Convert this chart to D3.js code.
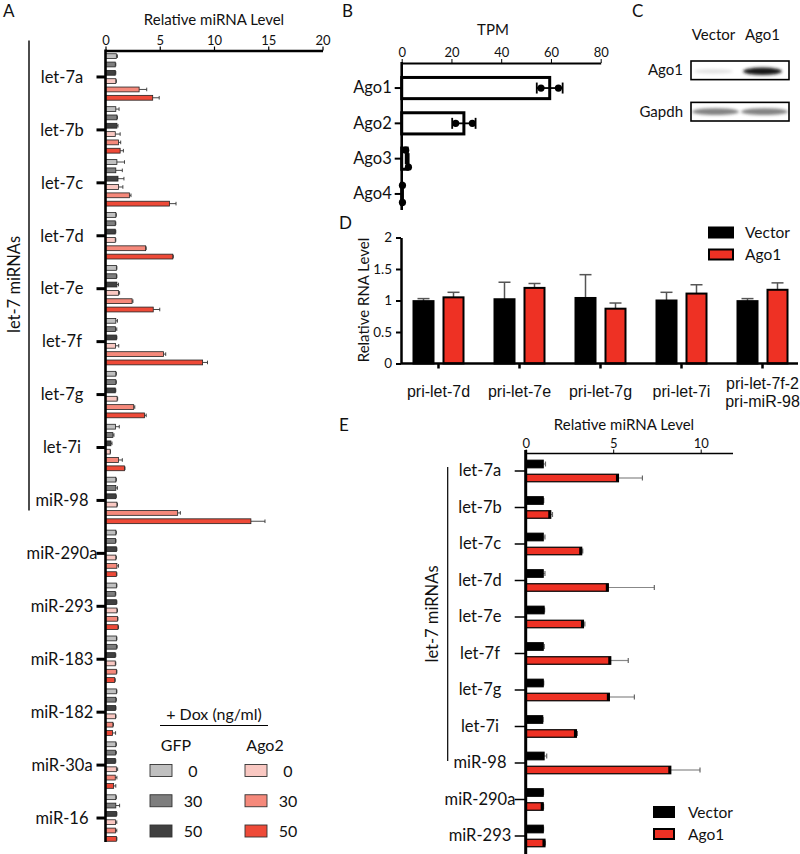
<!DOCTYPE html>
<html><head><meta charset="utf-8">
<script src="https://cdn.jsdelivr.net/npm/d3@7"></script>
<style>
body{margin:0;background:#fff}
svg{display:block;font-family:Lato,"Open Sans",sans-serif;fill:#111}
</style></head><body>
<svg id="c" width="800" height="854"></svg>
<script>
// ---------- Panel A data ----------
const aCategories = ["let-7a","let-7b","let-7c","let-7d","let-7e","let-7f","let-7g","let-7i","miR-98","miR-290a","miR-293","miR-183","miR-182","miR-30a","miR-16"];
const aSeriesNames = ["GFP 0","GFP 30","GFP 50","Ago2 0","Ago2 30","Ago2 50"];
const aSeriesColors = ["#c0c0c0","#7e7e7e","#404040","#f9c8c2","#f5897b","#ee4a38"];
const aGFP0    = [1.0,0.95,1.05,0.95,1.0,0.95,0.95,0.92,0.95,0.95,1.0,1.0,1.0,0.95,0.95];
const aGFP30   = [0.9,1.05,0.95,0.9,1.0,0.92,0.95,0.68,0.95,0.92,0.9,1.0,0.95,0.92,0.95];
const aGFP50   = [0.9,1.05,1.15,0.9,1.05,1.0,0.9,0.5,0.95,1.0,1.0,0.9,0.92,0.9,1.0];
const aAgo2_0  = [0.95,0.9,1.2,0.9,1.2,0.92,1.07,0.43,1.05,0.95,1.05,0.9,0.92,1.0,0.92];
const aAgo2_30 = [3.1,1.2,2.2,3.7,2.45,5.35,2.6,1.2,6.65,1.05,1.1,1.0,0.68,0.9,0.92];
const aAgo2_50 = [4.35,1.35,5.9,6.2,4.4,8.95,3.6,1.75,13.4,1.0,1.15,0.85,0.65,0.75,1.0];
const aGFP0Err    = [0.1,0.3,0.7,0.05,0.05,0.15,0.05,0.35,0.05,0.05,0.05,0.05,0.05,0.05,0.05];
const aGFP30Err   = [0.05,0.05,0.6,0.05,0.05,0.12,0.05,0.1,0.15,0.05,0.05,0.08,0.05,0.08,0.35];
const aGFP50Err   = [0.05,0.1,0.55,0.05,0.15,0.05,0.05,0.1,0.05,0.05,0.05,0.05,0.05,0.05,0.05];
const aAgo2_0Err  = [0.05,0.45,0.4,0.05,0.1,0.3,0.05,0.03,0.05,0.05,0.05,0.05,0.05,0.12,0.12];
const aAgo2_30Err = [0.7,0.2,0.15,0.05,0.08,0.2,0.1,0.35,0.25,0.15,0.05,0.05,0.05,0.15,0.12];
const aAgo2_50Err = [0.6,0.3,0.6,0.05,0.6,0.45,0.15,0.05,1.3,0.05,0.05,0.05,0.28,0.2,0.05];
const aTicks = [0,5,10,15,20];
const aDoses = ["0","30","50"];
const aLet7Group = ["let-7a","miR-98"];

// ---------- Panel B data ----------
const bCategories = ["Ago1","Ago2","Ago3","Ago4"];
const bMeans  = [59.5,25,2.2,0.3];
const bErr    = [5.2,4.7,0.6,0];
const bPoints = [[56,63],[21.7,28.4],[1.6,2.7],[0.3,0.3]];
const bTicks  = [0,20,40,60,80];

// ---------- Panel C data ----------
const cLanes = ["Vector","Ago1"];
const cRows  = ["Ago1","Gapdh"];
const cIntensity = [[0.1,0.95],[0.55,0.55]];

// ---------- Panel D data ----------
const dGroups = ["pri-let-7d","pri-let-7e","pri-let-7g","pri-let-7i","pri-let-7f-2|pri-miR-98"];
const dSeries = ["Vector","Ago1"];
const dVector    = [0.99,1.02,1.04,1.0,0.99];
const dVectorErr = [0.04,0.27,0.37,0.13,0.04];
const dAgo1      = [1.05,1.2,0.87,1.11,1.17];
const dAgo1Err   = [0.08,0.07,0.09,0.14,0.11];
const dTicks = [0,0.5,1,1.5,2];

// ---------- Panel E data ----------
const eCategories = ["let-7a","let-7b","let-7c","let-7d","let-7e","let-7f","let-7g","let-7i","miR-98","miR-290a","miR-293"];
const eSeries = ["Vector","Ago1"];
const eVector    = [1.0,1.0,1.0,1.0,1.05,1.0,1.0,0.97,1.05,1.0,1.0];
const eVectorErr = [0.13,0.03,0.1,0.1,0.03,0.06,0.03,0.02,0.15,0.02,0.02];
const eAgo1      = [5.3,1.43,3.2,4.72,3.3,4.86,4.78,2.9,8.29,1.0,1.1];
const eAgo1Err   = [1.37,0.1,0.06,2.63,0.08,1.0,1.43,0.05,1.67,0.02,0.02];
const eTicks = [0,5,10];
const eLet7Group = ["let-7a","miR-98"];

const RED = "#ee3124";
const svg = d3.select("#c");
svg.append("rect").attr("width",800).attr("height",854).attr("fill","#fff");

function letter(t,x,y){ svg.append("text").attr("x",x).attr("y",y).attr("font-size",17).text(t); }
function styleAxis(g, w){
  g.select(".domain").attr("stroke","#000").attr("stroke-width",w);
  g.selectAll(".tick line").attr("stroke","#000");
  g.selectAll(".tick text").attr("fill","#111").attr("font-family","Lato,sans-serif");
}

// ================= Panel A =================
{
  letter("A",3,17);
  const x = d3.scaleLinear().domain([0,20]).range([105.5,322.5]);
  const y = d3.scaleBand().domain(aCategories).range([50.5,844.5]);
  const sub = d3.scaleBand().domain(aSeriesNames).range([0,y.bandwidth()]).paddingInner(0.42).paddingOuter(0.39);
  const vals = [aGFP0,aGFP30,aGFP50,aAgo2_0,aAgo2_30,aAgo2_50];
  const errs = [aGFP0Err,aGFP30Err,aGFP50Err,aAgo2_0Err,aAgo2_30Err,aAgo2_50Err];
  const rows = [];
  aCategories.forEach((c,i)=>aSeriesNames.forEach((s,j)=>rows.push({c,s,j,v:vals[j][i],e:errs[j][i]})));
  const g = svg.append("g");
  const eb = g.selectAll(".eb").data(rows).join("g");
  const cy = d => y(d.c)+sub(d.s)+sub.bandwidth()/2;
  eb.append("line").attr("x1",d=>x(d.v)).attr("x2",d=>x(d.v+d.e)).attr("y1",cy).attr("y2",cy).attr("stroke","#333").attr("stroke-width",0.9);
  eb.append("line").attr("x1",d=>x(d.v+d.e)).attr("x2",d=>x(d.v+d.e)).attr("y1",d=>cy(d)-1.8).attr("y2",d=>cy(d)+1.8).attr("stroke","#333").attr("stroke-width",0.9);
  g.selectAll(".bar").data(rows).join("rect")
    .attr("x",x(0)).attr("y",d=>y(d.c)+sub(d.s)).attr("width",d=>x(d.v)-x(0)).attr("height",sub.bandwidth())
    .attr("fill",d=>aSeriesColors[d.j]).attr("stroke","#222").attr("stroke-width",0.8);
  const gx = svg.append("g").attr("transform","translate(0,50.5)")
    .call(d3.axisTop(x).tickValues(aTicks).tickSize(4).tickSizeOuter(0).tickPadding(2));
  styleAxis(gx,2.5); gx.selectAll(".tick text").attr("font-size",13);
  gx.selectAll(".tick line").attr("stroke-width",1.2);
  svg.append("text").attr("x",214).attr("y",25).attr("text-anchor","middle").attr("font-size",15).text("Relative miRNA Level");
  const gy = svg.append("g").attr("transform","translate(105.5,0)")
    .call(d3.axisLeft(y).tickSize(9).tickSizeOuter(0).tickPadding(3));
  gy.select(".domain").attr("d","M0,49.5V842");
  styleAxis(gy,2.6);
  gy.selectAll(".tick line").attr("stroke-width",3);
  gy.selectAll(".tick text").attr("text-anchor","middle").attr("x",62-105.5).attr("font-size",16.5).attr("dy","0.35em");
  const by0 = y(aLet7Group[0])-10, by1 = y(aLet7Group[1])+y.bandwidth()/2+10;
  svg.append("line").attr("x1",29).attr("x2",29).attr("y1",by0).attr("y2",by1).attr("stroke","#000").attr("stroke-width",1.4);
  svg.append("text").attr("transform",`translate(20,${(by0+by1)/2+9}) rotate(-90)`).attr("text-anchor","middle").attr("font-size",16.5).text("let-7 miRNAs");
  const L = svg.append("g");
  L.append("text").attr("x",214).attr("y",720).attr("text-anchor","middle").attr("font-size",16).text("+ Dox (ng/ml)");
  L.append("line").attr("x1",160).attr("x2",268).attr("y1",725.5).attr("y2",725.5).attr("stroke","#000").attr("stroke-width",1);
  const groupsL = [{name:"GFP",cx:176,sx:150,lx:193,off:0},{name:"Ago2",cx:265,sx:245,lx:288,off:3}];
  const rowY = d3.scalePoint().domain(aDoses).range([770.5,831]);
  groupsL.forEach(gl=>{
    L.append("text").attr("x",gl.cx).attr("y",751).attr("text-anchor","middle").attr("font-size",16).text(gl.name);
    aDoses.forEach((dose,k)=>{
      L.append("rect").attr("x",gl.sx).attr("y",rowY(dose)-6).attr("width",22).attr("height",12)
        .attr("fill",aSeriesColors[gl.off+k]).attr("stroke","#333").attr("stroke-width",0.9);
      L.append("text").attr("x",gl.lx).attr("y",rowY(dose)+6).attr("text-anchor","middle").attr("font-size",16).text(dose);
    });
  });
}

// ================= Panel B =================
{
  letter("B",342,17);
  const x = d3.scaleLinear().domain([0,80]).range([401.7,600.7]);
  const y = d3.scaleBand().domain(bCategories).range([70.4,211.6]).paddingInner(0.4).paddingOuter(0.2);
  const g = svg.append("g");
  const rows = bCategories.map((c,i)=>({c,m:bMeans[i],e:bErr[i],p:bPoints[i]}));
  g.selectAll(".bb").data(rows).join("rect")
    .attr("x",x(0)).attr("y",d=>y(d.c)).attr("width",d=>Math.max(0,x(d.m)-x(0))).attr("height",y.bandwidth())
    .attr("fill","#fff").attr("stroke","#000").attr("stroke-width",3);
  rows.forEach(d=>{
    const cy = y(d.c)+y.bandwidth()/2;
    if(d.e>0){
      g.append("line").attr("x1",x(d.m-d.e)).attr("x2",x(d.m+d.e)).attr("y1",cy).attr("y2",cy).attr("stroke","#000").attr("stroke-width",1.8);
      [d.m-d.e,d.m+d.e].forEach(v=>g.append("line").attr("x1",x(v)).attr("x2",x(v)).attr("y1",cy-5.5).attr("y2",cy+5.5).attr("stroke","#000").attr("stroke-width",1.8));
    }
    const close = Math.abs(x(d.p[0])-x(d.p[1]))<8;
    d.p.forEach((v,k)=>{
      g.append("circle").attr("cx",x(v)).attr("cy",cy+(close?(k?8.5:-8.5):0)).attr("r",3.6).attr("fill","#000");
    });
  });
  const gx = svg.append("g").attr("transform","translate(0,63)")
    .call(d3.axisTop(x).tickValues(bTicks).tickSize(4).tickSizeOuter(0).tickPadding(2));
  styleAxis(gx,2); gx.selectAll(".tick text").attr("font-size",13);
  svg.append("text").attr("x",493).attr("y",35).attr("text-anchor","middle").attr("font-size",15).text("TPM");
  const gy = svg.append("g").attr("transform","translate(401.7,0)")
    .call(d3.axisLeft(y).tickSize(7).tickSizeOuter(0).tickPadding(3));
  gy.select(".domain").attr("d","M0,62V210");
  styleAxis(gy,2.6); gy.selectAll(".tick line").attr("stroke-width",2);
  gy.selectAll(".tick text").attr("font-size",16.5);
}

// ================= Panel C =================
{
  letter("C",632,17);
  const x = d3.scaleBand().domain(cLanes).range([691,789]);
  const y = d3.scaleBand().domain(cRows).range([61,121]).paddingInner(0.55);
  const defs = svg.append("defs");
  defs.append("filter").attr("id","blur").attr("x","-50%").attr("y","-100%").attr("width","200%").attr("height","300%")
    .append("feGaussianBlur").attr("stdDeviation",1.7);
  cLanes.forEach(l=>svg.append("text").attr("x",x(l)+x.bandwidth()/2+(l==="Vector"?-2:-2)).attr("y",40).attr("text-anchor","middle").attr("font-size",15).text(l));
  cRows.forEach((r,i)=>{
    const top = y(r), h = y.bandwidth();
    svg.append("text").attr("x",683).attr("y",top+h/2+5).attr("text-anchor","end").attr("font-size",15).text(r);
    const cid = "clip"+i;
    defs.append("clipPath").attr("id",cid).append("rect").attr("x",691).attr("y",top).attr("width",98).attr("height",h);
    const gb = svg.append("g").attr("clip-path",`url(#${cid})`);
    cLanes.forEach((l,j)=>{
      const inten = cIntensity[i][j];
      gb.append("ellipse").attr("cx",x(l)+x.bandwidth()/2-(i===0?2:0)).attr("cy",top+h/2+(i===0?1:0))
        .attr("rx",x.bandwidth()/2-(i===0?5:1)).attr("ry",i===0?2.2+inten*1.6:3.4)
        .attr("fill",d3.interpolateGreys(0.35+inten*0.6)).attr("opacity",Math.min(1,0.25+inten))
        .attr("filter","url(#blur)");
    });
    svg.append("rect").attr("x",691).attr("y",top).attr("width",98).attr("height",h)
      .attr("fill","none").attr("stroke","#000").attr("stroke-width",1.6);
  });
}

// ================= Panel D =================
{
  letter("D",339,229);
  const x = d3.scaleBand().domain(dGroups).range([398,803]);
  const xi = d3.scaleBand().domain(dSeries).range([-30,30]).paddingInner(1/3).paddingOuter(1/6);
  const y = d3.scaleLinear().domain([0,2]).range([363.5,237.5]);
  const vals = [dVector,dAgo1], errs=[dVectorErr,dAgo1Err], fills=["#000",RED];
  const rows=[];
  dGroups.forEach((gname,i)=>dSeries.forEach((s,j)=>rows.push({gname,s,j,v:vals[j][i],e:errs[j][i]})));
  const g = svg.append("g");
  rows.forEach(d=>{
    const cx = x(d.gname)+x.bandwidth()/2+xi(d.s)+xi.bandwidth()/2;
    g.append("line").attr("x1",cx).attr("x2",cx).attr("y1",y(d.v)).attr("y2",y(d.v+d.e)).attr("stroke","#555").attr("stroke-width",1.5);
    g.append("line").attr("x1",cx-6).attr("x2",cx+6).attr("y1",y(d.v+d.e)).attr("y2",y(d.v+d.e)).attr("stroke","#555").attr("stroke-width",1.5);
  });
  g.selectAll(".db").data(rows).join("rect")
    .attr("x",d=>x(d.gname)+x.bandwidth()/2+xi(d.s)).attr("width",xi.bandwidth())
    .attr("y",d=>y(d.v)).attr("height",d=>y(0)-y(d.v))
    .attr("fill",d=>fills[d.j]).attr("stroke","#000").attr("stroke-width",2);
  const gy = svg.append("g").attr("transform","translate(401,0)")
    .call(d3.axisLeft(y).tickValues(dTicks).tickSize(5).tickSizeOuter(0).tickPadding(4).tickFormat(d3.format("")));
  styleAxis(gy,2.5); gy.selectAll(".tick line").attr("stroke-width",2);
  gy.selectAll(".tick text").attr("font-size",13.5);
  const gx = svg.append("g").attr("transform","translate(0,363.5)")
    .call(d3.axisBottom(x).tickSize(5).tickSizeOuter(0).tickFormat(""));
  gx.select(".domain").attr("d","M401,0H798");
  styleAxis(gx,2.5); gx.selectAll(".tick line").attr("stroke-width",2.5);
  gx.selectAll(".tick").each(function(d){
    const parts = d.split("|");
    const t = d3.select(this).append("text").attr("text-anchor","middle").attr("font-size",16).attr("fill","#111");
    parts.forEach((p,k)=>t.append("tspan").attr("x",0).attr("y",parts.length>1?(k?43.5:25):33.5).text(p));
  });
  svg.append("text").attr("transform","translate(369,300) rotate(-90)").attr("text-anchor","middle").attr("font-size",15).text("Relative RNA Level");
  const ly = d3.scalePoint().domain(dSeries).range([232.5,254.5]);
  dSeries.forEach((s,j)=>{
    svg.append("rect").attr("x",709).attr("y",ly(s)-5).attr("width",24).attr("height",10).attr("fill",fills[j]).attr("stroke","#000").attr("stroke-width",2);
    svg.append("text").attr("x",745).attr("y",ly(s)+5.5).attr("font-size",15.5).text(s);
  });
}

// ================= Panel E =================
{
  letter("E",339,431);
  const x = d3.scaleLinear().domain([0,12]).range([525.7,735.7]);
  const y = d3.scaleBand().domain(eCategories).range([452.75,854.25]);
  const yi = d3.scaleBand().domain(eSeries).range([-14,14]).paddingInner(0.464).paddingOuter(0.232);
  const vals=[eVector,eAgo1], errs=[eVectorErr,eAgo1Err], fills=["#000",RED];
  const rows=[];
  eCategories.forEach((c,i)=>eSeries.forEach((s,j)=>rows.push({c,s,j,v:vals[j][i],e:errs[j][i]})));
  const g = svg.append("g");
  const cy = d => y(d.c)+y.bandwidth()/2+yi(d.s)+yi.bandwidth()/2;
  rows.forEach(d=>{
    g.append("line").attr("x1",x(d.v)).attr("x2",x(d.v+d.e)).attr("y1",cy(d)).attr("y2",cy(d)).attr("stroke","#888").attr("stroke-width",1.2);
    g.append("line").attr("x1",x(d.v+d.e)).attr("x2",x(d.v+d.e)).attr("y1",cy(d)-2.5).attr("y2",cy(d)+2.5).attr("stroke","#666").attr("stroke-width",1.2);
  });
  g.selectAll(".eb").data(rows).join("rect")
    .attr("x",x(0)).attr("y",d=>cy(d)-yi.bandwidth()/2).attr("width",d=>x(d.v)-x(0)).attr("height",yi.bandwidth())
    .attr("fill",d=>fills[d.j]).attr("stroke","#000").attr("stroke-width",1.2);
  g.selectAll(".ee").data(rows.filter(d=>d.j===1)).join("line")
    .attr("x1",d=>x(d.v)-1.2).attr("x2",d=>x(d.v)-1.2).attr("y1",d=>cy(d)-yi.bandwidth()/2).attr("y2",d=>cy(d)+yi.bandwidth()/2)
    .attr("stroke","#000").attr("stroke-width",2.6);
  const gx = svg.append("g").attr("transform","translate(0,453.5)")
    .call(d3.axisTop(x).tickValues(eTicks).tickSize(4).tickSizeOuter(0).tickPadding(2));
  gx.select(".domain").attr("d","M525.7,0H733");
  styleAxis(gx,1.5); gx.selectAll(".tick text").attr("font-size",13);
  svg.append("text").attr("x",624).attr("y",430).attr("text-anchor","middle").attr("font-size",15).text("Relative miRNA Level");
  const gy = svg.append("g").attr("transform","translate(525.7,0)")
    .call(d3.axisLeft(y).tickSize(11).tickSizeOuter(0).tickPadding(3));
  gy.select(".domain").attr("d","M0,450V854");
  styleAxis(gy,3); gy.selectAll(".tick line").attr("stroke-width",1.5);
  gy.selectAll(".tick text").attr("text-anchor","middle").attr("x",480-525.7).attr("font-size",16.5);
  const by0 = y(eLet7Group[0])+y.bandwidth()/2-4, by1 = y(eLet7Group[1])+y.bandwidth()/2-2;
  svg.append("line").attr("x1",447.7).attr("x2",447.7).attr("y1",by0).attr("y2",by1).attr("stroke","#000").attr("stroke-width",1.2);
  svg.append("text").attr("transform",`translate(438,${(by0+by1)/2}) rotate(-90)`).attr("text-anchor","middle").attr("font-size",16.5).text("let-7 miRNAs");
  const ly = d3.scalePoint().domain(eSeries).range([812,834]);
  eSeries.forEach((s,j)=>{
    svg.append("rect").attr("x",654).attr("y",ly(s)-5).attr("width",20).attr("height",10).attr("fill",fills[j]).attr("stroke","#000").attr("stroke-width",2);
    svg.append("text").attr("x",688).attr("y",ly(s)+5.5).attr("font-size",15.5).text(s);
  });
}
</script></body></html>
